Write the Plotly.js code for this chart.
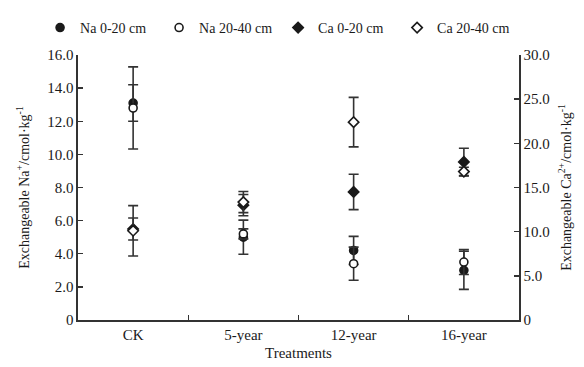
<!DOCTYPE html>
<html>
<head>
<meta charset="utf-8">
<script src="https://cdn.plot.ly/plotly-3.0.1.min.js"></script>
<style>html,body{margin:0;padding:0;background:#fff;}#chart{width:584px;height:367px;}</style>
</head>
<body>
<div id="chart"></div>
<script>
var treatments = ["CK", "5-year", "12-year", "16-year"];
var naTop = [13.1, 5.0, 4.2, 3.0];
var naTopErr = [1.1, 1.03, 0.85, 1.15];
var naSub = [12.8, 5.2, 3.4, 3.5];
var naSubErr = [2.48, 0.3, 1.0, 0.75];
var caTop = [10.3, 13.0, 14.5, 17.9];
var caTopErr = [1.24, 1.2, 2.0, 1.55];
var caSub = [10.1, 13.35, 22.4, 16.8];
var caSubErr = [2.85, 1.2, 2.8, 0.5];
var naTicks = [0, 2, 4, 6, 8, 10, 12, 14, 16];
var naTickText = ["0", "2.0", "4.0", "6.0", "8.0", "10.0", "12.0", "14.0", "16.0"];
var caTicks = [0, 5, 10, 15, 20, 25, 30];
var caTickText = ["0", "5.0", "10.0", "15.0", "20.0", "25.0", "30.0"];

var ink = "#1a1a1a";
function errBar(arr) {
  return {type: "data", array: arr, visible: true, color: "#333", thickness: 1.6, width: 5};
}
function trace(name, y, err, symbol, fill, axis) {
  return {
    type: "scatter", mode: "markers", name: name,
    x: treatments, y: y, yaxis: axis,
    error_y: errBar(err),
    marker: {symbol: symbol, size: 8, color: fill,
             line: {color: ink, width: 1.6}}
  };
}
var data = [
  trace("Na 0-20 cm", naTop, naTopErr, "circle", ink, "y"),
  trace("Na 20-40 cm", naSub, naSubErr, "circle", "#fff", "y"),
  trace("Ca 0-20 cm", caTop, caTopErr, "diamond", ink, "y2"),
  trace("Ca 20-40 cm", caSub, caSubErr, "diamond", "#fff", "y2")
];
var font = {family: "Liberation Serif, Times New Roman, serif", size: 15, color: ink};
var layout = {
  width: 584, height: 367,
  margin: {l: 78, r: 65, t: 45, b: 47},
  paper_bgcolor: "#fff", plot_bgcolor: "#fff",
  font: font,
  showlegend: true,
  legend: {orientation: "h", x: -0.086, xanchor: "left", xref: "paper",
           y: 1.102, yanchor: "middle", yref: "paper",
           font: {family: font.family, size: 14, color: ink},
           itemwidth: 30, entrywidth: 74, entrywidthmode: "pixels", tracegroupgap: 0},
  xaxis: {
    type: "category", range: [-0.5, 3.5],
    showline: true, linecolor: "#333", linewidth: 1.6,
    ticks: "inside", ticklen: 5, tickwidth: 1.4, tickcolor: "#333", tickson: "boundaries",
    showgrid: false, zeroline: false,
    title: {text: "Treatments", font: font, standoff: 6},
    tickfont: font
  },
  yaxis: {
    range: [0, 16], tickvals: naTicks, ticktext: naTickText,
    showline: true, linecolor: "#333", linewidth: 1.6,
    ticks: "inside", ticklen: 5, tickwidth: 1.4, tickcolor: "#333",
    showgrid: false, zeroline: false, tickfont: font,
    title: {text: "Exchangeable Na<sup>+</sup>/cmol·kg<sup>-1</sup>", font: {family: font.family, size: 14, color: ink}, standoff: 14}
  },
  yaxis2: {
    range: [0, 30], tickvals: caTicks, ticktext: caTickText,
    overlaying: "y", side: "right",
    showline: true, linecolor: "#333", linewidth: 1.6,
    ticks: "inside", ticklen: 5, tickwidth: 1.4, tickcolor: "#333",
    showgrid: false, zeroline: false, tickfont: font,
    title: {text: "Exchangeable Ca<sup>2+</sup>/cmol·kg<sup>-1</sup>", font: {family: font.family, size: 14, color: ink}, standoff: 12}
  }
};
Plotly.newPlot("chart", data, layout, {displayModeBar: false, staticPlot: true});
</script>
</body>
</html>
